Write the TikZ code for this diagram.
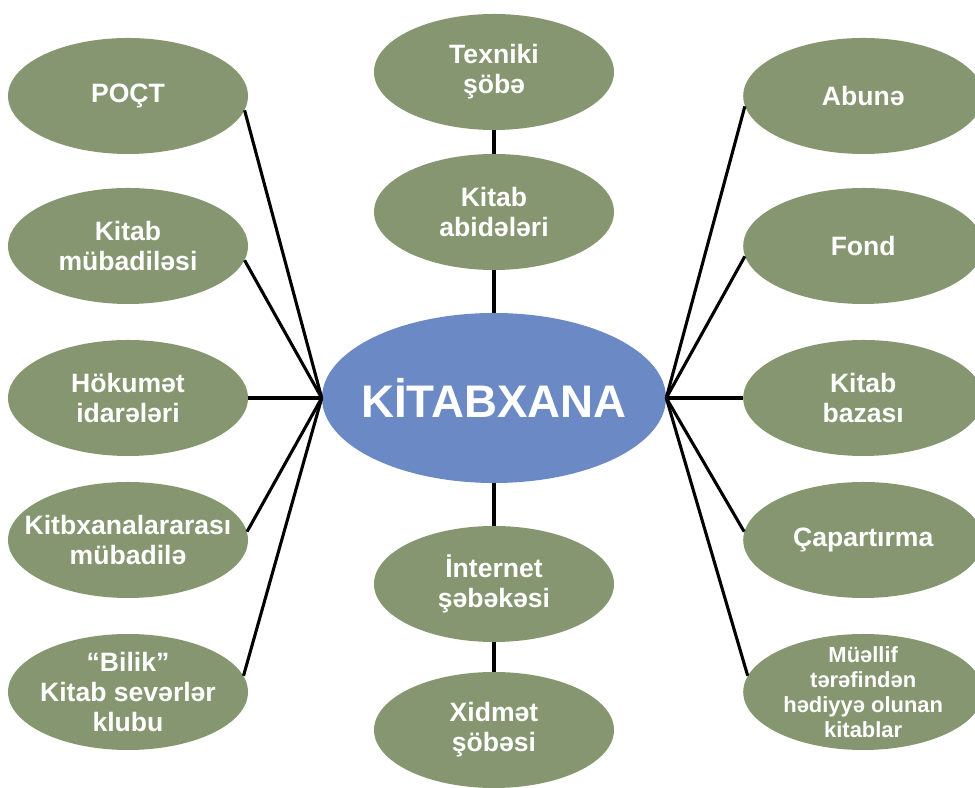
\documentclass[tikz,border=0pt]{standalone}
\usepackage{fontspec}
\setmainfont{Liberation Sans}
\usetikzlibrary{shapes.geometric}
\definecolor{partgreen}{RGB}{134,150,112}
\definecolor{libblue}{RGB}{107,137,197}
\tikzstyle{part} = [ellipse, fill=partgreen, minimum width=6cm, minimum height=2.9cm, inner sep=-0.6cm,
	text=white, align=center, font=\fontsize{18.9}{21.3}\selectfont\bfseries]
\tikzstyle{smallpart} = [part, font=\fontsize{15.6}{17.8}\selectfont\bfseries]
\tikzstyle{library} = [ellipse, fill=libblue, minimum width=8.6cm, minimum height=4.25cm, inner sep=-0.5cm,
	text=white, font=\fontsize{32.5}{36}\selectfont\bfseries]
\tikzstyle{link} = [line width=2.2pt, black]

\begin{document}
\begin{tikzpicture}
			\useasboundingbox (0,0) rectangle (24.375,19.7);
			% centre
			\node [library] (lib) at (12.35,9.75) {KİTABXANA};
			% middle column
			\node [part] (texniki) at (12.35,17.9) {Texniki\\şöbə};
			\node [part] (abide) at (12.35,14.4) {Kitab\\abidələri};
			\node [part] (internet) at (12.35,5.1) {İnternet\\şəbəkəsi};
			\node [part] (xidmet) at (12.35,1.45) {Xidmət\\şöbəsi};
			% left column
			\node [part] (poct) at (3.2,17.3) {POÇT};
			\node [part] (mubadile) at (3.2,13.55) {Kitab\\mübadiləsi};
			\node [part] (hokumet) at (3.2,9.75) {Hökumət\\idarələri};
			\node [part] (arasi) at (3.2,6.2) {Kitbxanalararası\\mübadilə};
			\node [part] (bilik) at (3.2,2.4) {“Bilik”\\Kitab sevərlər\\klubu};
			% right column
			\node [part] (abune) at (21.58,17.3) {Abunə};
			\node [part] (fond) at (21.58,13.55) {Fond};
			\node [part] (baza) at (21.58,9.75) {Kitab\\bazası};
			\node [part] (capar) at (21.58,6.2) {Çapartırma};
			\node [smallpart] (muellif) at (21.58,2.4) {Müəllif\\tərəfindən\\hədiyyə olunan\\kitablar};

			\draw [link] (texniki.south) -- (abide.north);
			\draw [link] (abide.south) -- (lib.north);
			\draw [link] (lib.south) -- (internet.north);
			\draw [link] (internet.south) -- (xidmet.north);

			\draw [link] (lib.west) -- (poct.-7.5);
			\draw [link] (lib.west) -- (mubadile.-7);
			\draw [link] (lib.west) -- (hokumet.east);
			\draw [link] (lib.west) -- (arasi.4);
			\draw [link] (lib.west) -- (bilik.8);

			\draw [link] (lib.east) -- (abune.185.5);
			\draw [link] (lib.east) -- (fond.185);
			\draw [link] (lib.east) -- (baza.west);
			\draw [link] (lib.east) -- (capar.176);
			\draw [link] (lib.east) -- (muellif.172);
		\end{tikzpicture}
\end{document}
